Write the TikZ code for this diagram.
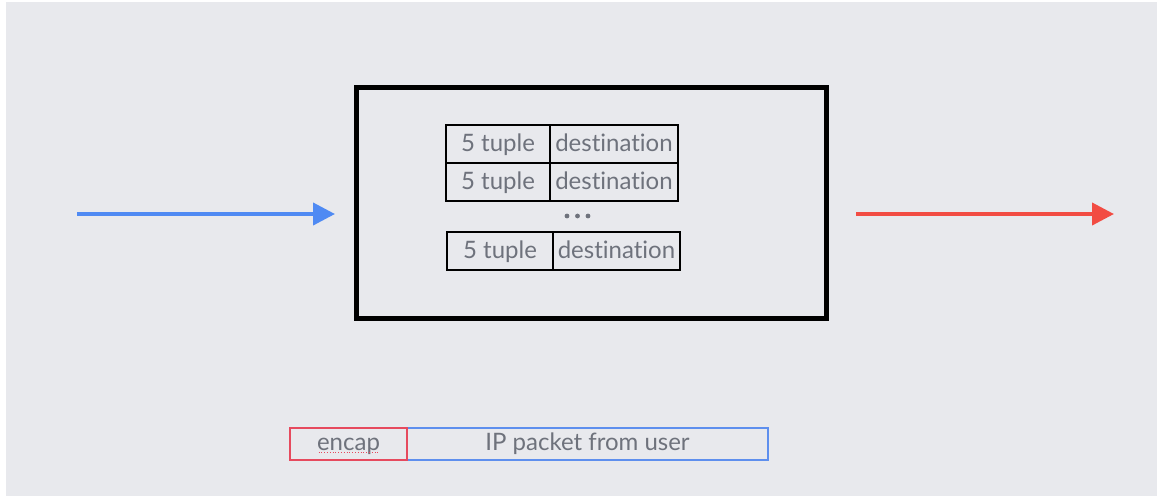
\documentclass[tikz,border=0pt]{standalone}
\usepackage{fontspec}
\setmainfont[Ligatures=NoCommon]{Lato}
\usetikzlibrary{arrows.meta}
\definecolor{bg}{HTML}{E8E9ED}
\definecolor{txt}{HTML}{6E727C}
\definecolor{inblue}{HTML}{4F8AF3}
\definecolor{outred}{HTML}{F24C43}
\definecolor{boxred}{HTML}{E64A5E}
\definecolor{boxblue}{HTML}{5E8FEE}
\tikzset{
  every node/.style={outer sep=0pt},
  cell/.style={draw=black, line width=1.3pt, minimum height=38pt, inner sep=0pt,
    text height=18pt, text depth=3pt,
    font=\fontsize{24}{28}\selectfont, text=txt, anchor=north west},
  flow/.style={line width=4pt, -{Triangle[length=22pt,width=22pt]}},
  field/.style={line width=2pt, minimum height=32pt, inner sep=0pt,
    text height=17pt, text depth=5pt,
    font=\fontsize{24}{28}\selectfont, text=txt, anchor=north west},
}
\begin{document}
\begin{tikzpicture}[x=1pt,y=-1pt]
  \useasboundingbox (0,0) rectangle (1160,496);
  \fill[white] (0,0) rectangle (1160,496);
  \fill[bg] (6,2) rectangle (1157,496);

  % forwarding table box
  \node[draw=black, line width=5pt, minimum width=469.5pt, minimum height=230.5pt,
        inner sep=0pt, anchor=north west] (lb) at (356.5,87.5) {};

  % table rows
  \node[cell, minimum width=104pt] (k1) at (446,125) {5 tuple};
  \node[cell, minimum width=128pt] (d1) at (550,125) {destination};
  \node[cell, minimum width=104pt] (k2) at (446,163) {5 tuple};
  \node[cell, minimum width=128pt] (d2) at (550,163) {destination};
  \node[cell, minimum width=106pt] (k3) at (447,232) {5 tuple};
  \node[cell, minimum width=127pt] (d3) at (553,232) {destination};

  % ellipsis
  \foreach \x/\n in {567/a,577.5/b,588/c}
    \fill[txt] (\x,216) circle (2.4pt) coordinate (dot\n);

  % incoming and outgoing traffic
  \coordinate (inA) at (77,214);
  \coordinate (inB) at (335,214);
  \coordinate (outA) at (856,214);
  \coordinate (outB) at (1114,214);
  \draw[flow, inblue] (inA) -- (inB);
  \draw[flow, outred] (outA) -- (outB);

  % packet layout
  \node[field, draw=boxblue, minimum width=361pt] (ip) at (407,428) {IP packet from user};
  \node[field, draw=boxred, minimum width=117pt] (enc) at (290,428) {encap};
  \draw[boxred, line width=0.8pt, dotted] ([xshift=-30pt,yshift=8pt]enc.south) -- ([xshift=30pt,yshift=8pt]enc.south);
\end{tikzpicture}
\end{document}
